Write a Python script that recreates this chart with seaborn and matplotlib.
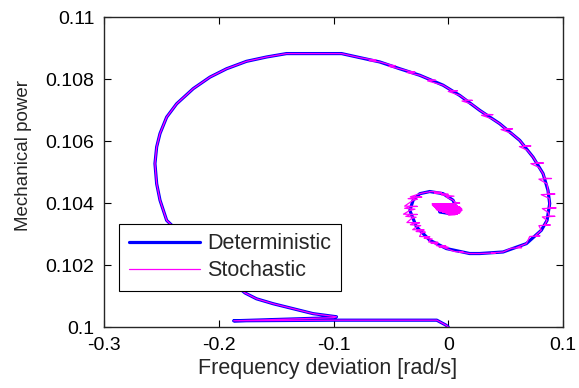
import numpy as np
import pandas as pd
import seaborn as sns
import matplotlib.pyplot as plt

# deterministic trajectory (frequency deviation, mechanical power)
det_x = [0.000, -0.002, -0.010, -0.100, -0.187, -0.100, -0.0974, -0.1177, -0.1351, -0.1525,
         -0.1671, -0.1772, -0.190, -0.205, -0.220, -0.233, -0.2454, -0.2512, -0.2541, -0.2556,
         -0.2541, -0.2512, -0.2454, -0.2367, -0.2222, -0.2077, -0.1932, -0.1758, -0.1583, -0.1409,
         -0.0930, -0.0771, -0.0597, -0.0422, -0.0248, -0.0045, 0.0100, 0.0274, 0.0448, 0.0623,
         0.0739, 0.0826, 0.0869, 0.0884, 0.0861, 0.0811, 0.0681, 0.0478, 0.0274, 0.0187,
         -0.0016, -0.0161, -0.0277, -0.0335, -0.0306, -0.0248, -0.0161, -0.0045, 0.0042, 0.0071,
         0.0013, -0.0074, -0.0080, -0.0030]
det_y = [0.10000, 0.10006, 0.10022, 0.10022, 0.10020, 0.10030, 0.10033, 0.10043, 0.10059, 0.10075,
         0.10091, 0.10110, 0.10150, 0.10205, 0.10260, 0.10300, 0.10344, 0.10409, 0.10462, 0.10527,
         0.10581, 0.10624, 0.10677, 0.10720, 0.10769, 0.10806, 0.10833, 0.10857, 0.10871, 0.10882,
         0.10882, 0.10869, 0.10855, 0.10833, 0.10812, 0.10780, 0.10747, 0.10699, 0.10656, 0.10602,
         0.10548, 0.10495, 0.10441, 0.10398, 0.10344, 0.10312, 0.10269, 0.10242, 0.10237, 0.10237,
         0.10253, 0.10280, 0.10323, 0.10376, 0.10409, 0.10430, 0.10437, 0.10430, 0.10409, 0.10382,
         0.10366, 0.10371, 0.10380, 0.10384]

# stochastic trajectory: same path, noisy frequency deviation (rows mirror each other)
sto_x = [0.000, -0.002, -0.010, -0.100, -0.187, -0.100, -0.0974, -0.1177, -0.1351, -0.1525,
         -0.1671, -0.1772, -0.190, -0.205, -0.220, -0.233, -0.2454, -0.2512, -0.2541, -0.2556,
         -0.2541, -0.2512, -0.2454, -0.2367, -0.2222, -0.2077, -0.1932, -0.1758, -0.1583, -0.1409,
         -0.0930, -0.0771,
         -0.066, -0.063, -0.069, -0.0597,
         -0.049, -0.046, -0.052, -0.0422,
         -0.033, -0.029, -0.036, -0.0248,
         -0.015, -0.011, -0.018, -0.0045,
         0.003, 0.008, 0.000, 0.0100,
         0.016, 0.021, 0.012, 0.020, 0.0274,
         0.033, 0.039, 0.029, 0.038, 0.0448,
         0.050, 0.056, 0.046, 0.055, 0.0623,
         0.066, 0.072, 0.062, 0.069, 0.0739,
         0.077, 0.083, 0.072, 0.079, 0.0826,
         0.084, 0.090, 0.079, 0.086, 0.0869,
         0.087, 0.093, 0.081, 0.088, 0.0884,
         0.088, 0.094, 0.082, 0.087,
         0.088, 0.093, 0.082, 0.0861,
         0.084, 0.089, 0.079, 0.0811,
         0.076, 0.080, 0.071, 0.0681,
         0.060, 0.064, 0.055, 0.0478,
         0.038, 0.041, 0.034, 0.0274, 0.0187,
         0.010, 0.013, 0.006, -0.0016,
         -0.004, 0.000, -0.008,
         -0.006, -0.002, -0.010, -0.0110,
         -0.009, -0.015,
         -0.013, -0.009, -0.017, -0.0161,
         -0.014, -0.021,
         -0.020, -0.016, -0.025, -0.0235,
         -0.020, -0.028,
         -0.026, -0.021, -0.031, -0.0277,
         -0.024, -0.033,
         -0.030, -0.025, -0.036, -0.0320,
         -0.028, -0.037,
         -0.033, -0.027, -0.039, -0.0335,
         -0.029, -0.038,
         -0.033, -0.027, -0.038, -0.0306,
         -0.027, -0.035,
         -0.028, -0.023, -0.033, -0.0248,
         -0.020, -0.016, -0.0161,
         -0.010, -0.006, -0.012, -0.0045,
         0.000, -0.006,
         0.000, 0.005, -0.002, 0.0042,
         0.006, 0.010, 0.003,
         -0.014, 0.006, -0.014, 0.008, -0.013, 0.010, -0.012, 0.011, -0.011, 0.012,
         -0.010, 0.012, -0.008, 0.011, -0.005, 0.010, -0.002, 0.008, 0.000, 0.006]
sto_y = [0.10000, 0.10006, 0.10022, 0.10022, 0.10020, 0.10030, 0.10033, 0.10043, 0.10059, 0.10075,
         0.10091, 0.10110, 0.10150, 0.10205, 0.10260, 0.10300, 0.10344, 0.10409, 0.10462, 0.10527,
         0.10581, 0.10624, 0.10677, 0.10720, 0.10769, 0.10806, 0.10833, 0.10857, 0.10871, 0.10882,
         0.10882, 0.10869,
         0.10862, 0.10861, 0.10859, 0.10855,
         0.10844, 0.10843, 0.10841, 0.10833,
         0.10824, 0.10823, 0.10821, 0.10812,
         0.10797, 0.10796, 0.10794, 0.10780,
         0.10763, 0.10762, 0.10760, 0.10747,
         0.10732, 0.10731, 0.10729, 0.10720, 0.10699,
         0.10686, 0.10685, 0.10683, 0.10672, 0.10656,
         0.10640, 0.10639, 0.10637, 0.10625, 0.10602,
         0.10585, 0.10584, 0.10582, 0.10570, 0.10548,
         0.10530, 0.10529, 0.10527, 0.10515, 0.10495,
         0.10480, 0.10479, 0.10477, 0.10462, 0.10441,
         0.10430, 0.10429, 0.10427, 0.10415, 0.10398,
         0.10385, 0.10384, 0.10382, 0.10370,
         0.10358, 0.10357, 0.10355, 0.10344,
         0.10330, 0.10329, 0.10327, 0.10312,
         0.10295, 0.10294, 0.10292, 0.10269,
         0.10257, 0.10256, 0.10254, 0.10242,
         0.10239, 0.10239, 0.10238, 0.10237, 0.10237,
         0.10242, 0.10242, 0.10243, 0.10253,
         0.10256, 0.10257, 0.10258,
         0.10260, 0.10261, 0.10262, 0.10268,
         0.10269, 0.10270,
         0.10272, 0.10273, 0.10274, 0.10280,
         0.10284, 0.10286,
         0.10290, 0.10291, 0.10292, 0.10303,
         0.10306, 0.10308,
         0.10312, 0.10313, 0.10314, 0.10323,
         0.10327, 0.10330,
         0.10335, 0.10336, 0.10337, 0.10350,
         0.10354, 0.10357,
         0.10362, 0.10363, 0.10364, 0.10376,
         0.10380, 0.10383,
         0.10388, 0.10389, 0.10390, 0.10409,
         0.10412, 0.10414,
         0.10418, 0.10419, 0.10420, 0.10430,
         0.10434, 0.10436, 0.10437,
         0.10436, 0.10434, 0.10432, 0.10430,
         0.10428, 0.10426,
         0.10424, 0.10422, 0.10420, 0.10409,
         0.10402, 0.10400, 0.10398,
         0.10398, 0.10396, 0.10394, 0.10392, 0.10390, 0.10388, 0.10386, 0.10384, 0.10382, 0.10380,
         0.10378, 0.10376, 0.10374, 0.10372, 0.10370, 0.10368, 0.10366, 0.10364, 0.10362, 0.10362]

x_ticks = [-0.3, -0.2, -0.1, 0, 0.1]
x_labels = ['-0.3', '-0.2', '-0.1', '0', '0.1']
y_ticks = [0.1, 0.102, 0.104, 0.106, 0.108, 0.11]
y_labels = ['0.1', '0.102', '0.104', '0.106', '0.108', '0.11']

sns.set_style('white')
plt.rcParams['font.family'] = ['Liberation Sans', 'DejaVu Sans']

fig = plt.figure(figsize=(5.79, 3.88), dpi=100)
ax = fig.add_axes([104 / 579, 1 - 327 / 388, 459 / 579, 310 / 388])

det = pd.DataFrame({'x': det_x, 'y': det_y})
sto = pd.DataFrame({'x': sto_x, 'y': sto_y})
sns.lineplot(data=det, x='x', y='y', sort=False, estimator=None, color='#0000ff',
             linewidth=2.3, label='Deterministic', ax=ax)
sns.lineplot(data=sto, x='x', y='y', sort=False, estimator=None, color='#ff00ff',
             linewidth=0.9, label='Stochastic', ax=ax)

ax.set_xlim(-0.3, 0.1)
ax.set_ylim(0.1, 0.11)
ax.set_xticks(x_ticks)
ax.set_xticklabels(x_labels)
ax.set_yticks(y_ticks)
ax.set_yticklabels(y_labels)
ax.tick_params(direction='in', length=5, width=0.8, colors='black', labelsize=14,
               top=True, right=True, bottom=True, left=True)
ax.tick_params(axis='y', pad=7)
ax.tick_params(axis='x', pad=7)
for s in ax.spines.values():
    s.set_visible(True)
    s.set_color('#262626')
    s.set_linewidth(1.0)

ax.set_xlabel('Frequency deviation [rad/s]', fontsize=15.5)
ax.xaxis.set_label_coords(0.488, -0.1)
ax.set_ylabel('Mechanical power', fontsize=13.5)
ax.yaxis.set_label_coords(-0.157, 0.552)

leg = ax.legend(loc='lower left', bbox_to_anchor=(0.0327, 0.116), borderaxespad=0,
                fontsize=15.5, frameon=True, fancybox=False, handlelength=3.3,
                handletextpad=0.33, labelspacing=0.28, borderpad=0.45)
leg.get_frame().set_edgecolor('black')
leg.get_frame().set_linewidth(0.8)
leg.get_frame().set_alpha(1)

fig.savefig('out.png', dpi=100)
